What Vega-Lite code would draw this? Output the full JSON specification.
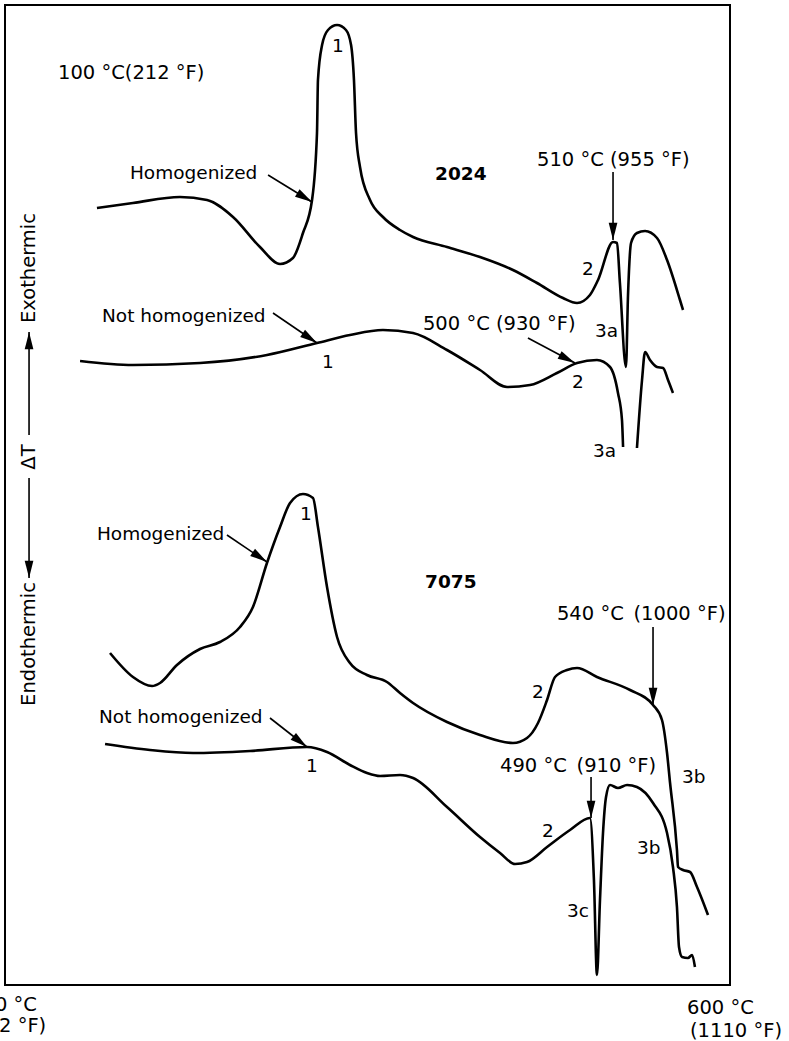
{
  "$schema": "https://vega.github.io/schema/vega-lite/v6.json",
  "width": 725,
  "height": 980,
  "autosize": {"type": "none"},
  "padding": {"left": 5, "top": 5, "right": 59, "bottom": 56},
  "background": "white",
  "config": {
    "view": {"stroke": "black", "strokeWidth": 2},
    "text": {"font": "DejaVu Sans", "color": "black"}
  },
  "datasets": {
    "curves": [
      {"series": "2024 homogenized", "tempC": 76.1, "dT": 777},
      {"series": "2024 homogenized", "tempC": 105.9, "dT": 782},
      {"series": "2024 homogenized", "tempC": 144.8, "dT": 788},
      {"series": "2024 homogenized", "tempC": 167.2, "dT": 785},
      {"series": "2024 homogenized", "tempC": 188.7, "dT": 768},
      {"series": "2024 homogenized", "tempC": 211.0, "dT": 738},
      {"series": "2024 homogenized", "tempC": 227.6, "dT": 721},
      {"series": "2024 homogenized", "tempC": 238.3, "dT": 727},
      {"series": "2024 homogenized", "tempC": 246.6, "dT": 752},
      {"series": "2024 homogenized", "tempC": 254.1, "dT": 785},
      {"series": "2024 homogenized", "tempC": 258.2, "dT": 852},
      {"series": "2024 homogenized", "tempC": 259.0, "dT": 905},
      {"series": "2024 homogenized", "tempC": 262.4, "dT": 940},
      {"series": "2024 homogenized", "tempC": 267.3, "dT": 955},
      {"series": "2024 homogenized", "tempC": 274.8, "dT": 960},
      {"series": "2024 homogenized", "tempC": 282.2, "dT": 955},
      {"series": "2024 homogenized", "tempC": 286.4, "dT": 940},
      {"series": "2024 homogenized", "tempC": 288.8, "dT": 905},
      {"series": "2024 homogenized", "tempC": 290.5, "dT": 852},
      {"series": "2024 homogenized", "tempC": 293.8, "dT": 818},
      {"series": "2024 homogenized", "tempC": 302.1, "dT": 785},
      {"series": "2024 homogenized", "tempC": 312.8, "dT": 768},
      {"series": "2024 homogenized", "tempC": 326.9, "dT": 755},
      {"series": "2024 homogenized", "tempC": 337.7, "dT": 748},
      {"series": "2024 homogenized", "tempC": 365.8, "dT": 738},
      {"series": "2024 homogenized", "tempC": 393.1, "dT": 728},
      {"series": "2024 homogenized", "tempC": 420.4, "dT": 715},
      {"series": "2024 homogenized", "tempC": 440.3, "dT": 702},
      {"series": "2024 homogenized", "tempC": 461.8, "dT": 687},
      {"series": "2024 homogenized", "tempC": 473.4, "dT": 682},
      {"series": "2024 homogenized", "tempC": 484.1, "dT": 690},
      {"series": "2024 homogenized", "tempC": 490.8, "dT": 705},
      {"series": "2024 homogenized", "tempC": 503.2, "dT": 743},
      {"series": "2024 homogenized", "tempC": 506.5, "dT": 742},
      {"series": "2024 homogenized", "tempC": 508.9, "dT": 702},
      {"series": "2024 homogenized", "tempC": 513.9, "dT": 618},
      {"series": "2024 homogenized", "tempC": 515.6, "dT": 690},
      {"series": "2024 homogenized", "tempC": 518.1, "dT": 742},
      {"series": "2024 homogenized", "tempC": 523.0, "dT": 752},
      {"series": "2024 homogenized", "tempC": 529.7, "dT": 754},
      {"series": "2024 homogenized", "tempC": 539.6, "dT": 747},
      {"series": "2024 homogenized", "tempC": 547.9, "dT": 725},
      {"series": "2024 homogenized", "tempC": 558.6, "dT": 685},
      {"series": "2024 homogenized", "tempC": 561.1, "dT": 675},

      {"series": "2024 not homogenized a", "tempC": 62.1, "dT": 624},
      {"series": "2024 not homogenized a", "tempC": 105.9, "dT": 620},
      {"series": "2024 not homogenized a", "tempC": 161.4, "dT": 622},
      {"series": "2024 not homogenized a", "tempC": 216.8, "dT": 630},
      {"series": "2024 not homogenized a", "tempC": 258.2, "dT": 642},
      {"series": "2024 not homogenized a", "tempC": 285.5, "dT": 650},
      {"series": "2024 not homogenized a", "tempC": 312.8, "dT": 655},
      {"series": "2024 not homogenized a", "tempC": 337.7, "dT": 652},
      {"series": "2024 not homogenized a", "tempC": 365.8, "dT": 635},
      {"series": "2024 not homogenized a", "tempC": 393.1, "dT": 615},
      {"series": "2024 not homogenized a", "tempC": 415.5, "dT": 598},
      {"series": "2024 not homogenized a", "tempC": 434.5, "dT": 600},
      {"series": "2024 not homogenized a", "tempC": 456.8, "dT": 612},
      {"series": "2024 not homogenized a", "tempC": 473.4, "dT": 622},
      {"series": "2024 not homogenized a", "tempC": 489.9, "dT": 625},
      {"series": "2024 not homogenized a", "tempC": 500.7, "dT": 618},
      {"series": "2024 not homogenized a", "tempC": 507.3, "dT": 592},
      {"series": "2024 not homogenized a", "tempC": 510.6, "dT": 565},
      {"series": "2024 not homogenized a", "tempC": 511.5, "dT": 538},
      {"series": "2024 not homogenized b", "tempC": 523.0, "dT": 537},
      {"series": "2024 not homogenized b", "tempC": 527.2, "dT": 605},
      {"series": "2024 not homogenized b", "tempC": 529.7, "dT": 633},
      {"series": "2024 not homogenized b", "tempC": 533.8, "dT": 625},
      {"series": "2024 not homogenized b", "tempC": 539.6, "dT": 618},
      {"series": "2024 not homogenized b", "tempC": 544.6, "dT": 617},
      {"series": "2024 not homogenized b", "tempC": 548.7, "dT": 605},
      {"series": "2024 not homogenized b", "tempC": 552.8, "dT": 592},

      {"series": "7075 homogenized", "tempC": 86.9, "dT": 332},
      {"series": "7075 homogenized", "tempC": 105.9, "dT": 308},
      {"series": "7075 homogenized", "tempC": 121.7, "dT": 299},
      {"series": "7075 homogenized", "tempC": 128.3, "dT": 302},
      {"series": "7075 homogenized", "tempC": 142.3, "dT": 320},
      {"series": "7075 homogenized", "tempC": 161.4, "dT": 336},
      {"series": "7075 homogenized", "tempC": 177.9, "dT": 343},
      {"series": "7075 homogenized", "tempC": 194.5, "dT": 358},
      {"series": "7075 homogenized", "tempC": 205.2, "dT": 378},
      {"series": "7075 homogenized", "tempC": 216.8, "dT": 422},
      {"series": "7075 homogenized", "tempC": 227.6, "dT": 458},
      {"series": "7075 homogenized", "tempC": 235.9, "dT": 482},
      {"series": "7075 homogenized", "tempC": 246.6, "dT": 491},
      {"series": "7075 homogenized", "tempC": 254.9, "dT": 487},
      {"series": "7075 homogenized", "tempC": 259.0, "dT": 458},
      {"series": "7075 homogenized", "tempC": 266.5, "dT": 398},
      {"series": "7075 homogenized", "tempC": 274.8, "dT": 348},
      {"series": "7075 homogenized", "tempC": 285.5, "dT": 322},
      {"series": "7075 homogenized", "tempC": 299.6, "dT": 310},
      {"series": "7075 homogenized", "tempC": 316.1, "dT": 303},
      {"series": "7075 homogenized", "tempC": 326.9, "dT": 292},
      {"series": "7075 homogenized", "tempC": 337.7, "dT": 282},
      {"series": "7075 homogenized", "tempC": 365.8, "dT": 263},
      {"series": "7075 homogenized", "tempC": 393.1, "dT": 250},
      {"series": "7075 homogenized", "tempC": 420.4, "dT": 242},
      {"series": "7075 homogenized", "tempC": 432.0, "dT": 247},
      {"series": "7075 homogenized", "tempC": 441.1, "dT": 262},
      {"series": "7075 homogenized", "tempC": 448.6, "dT": 285},
      {"series": "7075 homogenized", "tempC": 455.2, "dT": 308},
      {"series": "7075 homogenized", "tempC": 465.1, "dT": 315},
      {"series": "7075 homogenized", "tempC": 473.4, "dT": 317},
      {"series": "7075 homogenized", "tempC": 489.9, "dT": 308},
      {"series": "7075 homogenized", "tempC": 517.3, "dT": 295},
      {"series": "7075 homogenized", "tempC": 536.3, "dT": 280},
      {"series": "7075 homogenized", "tempC": 543.7, "dT": 265},
      {"series": "7075 homogenized", "tempC": 547.9, "dT": 232},
      {"series": "7075 homogenized", "tempC": 550.4, "dT": 202},
      {"series": "7075 homogenized", "tempC": 556.1, "dT": 135},
      {"series": "7075 homogenized", "tempC": 557.0, "dT": 118},
      {"series": "7075 homogenized", "tempC": 561.1, "dT": 115},
      {"series": "7075 homogenized", "tempC": 566.9, "dT": 113},
      {"series": "7075 homogenized", "tempC": 572.7, "dT": 98},
      {"series": "7075 homogenized", "tempC": 581.8, "dT": 70},

      {"series": "7075 not homogenized", "tempC": 82.8, "dT": 241},
      {"series": "7075 not homogenized", "tempC": 120.0, "dT": 235},
      {"series": "7075 not homogenized", "tempC": 155.6, "dT": 232},
      {"series": "7075 not homogenized", "tempC": 202.8, "dT": 234},
      {"series": "7075 not homogenized", "tempC": 249.9, "dT": 238},
      {"series": "7075 not homogenized", "tempC": 266.5, "dT": 233},
      {"series": "7075 not homogenized", "tempC": 285.5, "dT": 220},
      {"series": "7075 not homogenized", "tempC": 299.6, "dT": 212},
      {"series": "7075 not homogenized", "tempC": 310.4, "dT": 209},
      {"series": "7075 not homogenized", "tempC": 326.9, "dT": 210},
      {"series": "7075 not homogenized", "tempC": 337.7, "dT": 207},
      {"series": "7075 not homogenized", "tempC": 365.8, "dT": 178},
      {"series": "7075 not homogenized", "tempC": 393.1, "dT": 148},
      {"series": "7075 not homogenized", "tempC": 409.7, "dT": 132},
      {"series": "7075 not homogenized", "tempC": 422.1, "dT": 121},
      {"series": "7075 not homogenized", "tempC": 432.0, "dT": 123},
      {"series": "7075 not homogenized", "tempC": 448.6, "dT": 138},
      {"series": "7075 not homogenized", "tempC": 467.6, "dT": 155},
      {"series": "7075 not homogenized", "tempC": 484.1, "dT": 167},
      {"series": "7075 not homogenized", "tempC": 487.4, "dT": 105},
      {"series": "7075 not homogenized", "tempC": 489.9, "dT": 10},
      {"series": "7075 not homogenized", "tempC": 492.4, "dT": 85},
      {"series": "7075 not homogenized", "tempC": 494.9, "dT": 152},
      {"series": "7075 not homogenized", "tempC": 497.4, "dT": 188},
      {"series": "7075 not homogenized", "tempC": 500.7, "dT": 200},
      {"series": "7075 not homogenized", "tempC": 507.3, "dT": 197},
      {"series": "7075 not homogenized", "tempC": 514.8, "dT": 200},
      {"series": "7075 not homogenized", "tempC": 523.0, "dT": 198},
      {"series": "7075 not homogenized", "tempC": 536.3, "dT": 182},
      {"series": "7075 not homogenized", "tempC": 547.9, "dT": 152},
      {"series": "7075 not homogenized", "tempC": 552.8, "dT": 118},
      {"series": "7075 not homogenized", "tempC": 556.1, "dT": 78},
      {"series": "7075 not homogenized", "tempC": 557.8, "dT": 38},
      {"series": "7075 not homogenized", "tempC": 560.3, "dT": 28},
      {"series": "7075 not homogenized", "tempC": 565.2, "dT": 27},
      {"series": "7075 not homogenized", "tempC": 568.6, "dT": 30},
      {"series": "7075 not homogenized", "tempC": 571.0, "dT": 18}
    ],
    "arrows": [
      {"tempC": 217.7, "dT": 810, "tempC2": 254.1, "dT2": 783, "angle": 121.5},
      {"tempC": 221.8, "dT": 672, "tempC2": 258.2, "dT2": 642, "angle": 124},
      {"tempC": 503.2, "dT": 813, "tempC2": 503.2, "dT2": 745, "angle": 180},
      {"tempC": 432.8, "dT": 647, "tempC2": 471.7, "dT2": 622, "angle": 117.5},
      {"tempC": 183.7, "dT": 450, "tempC2": 216.8, "dT2": 423, "angle": 124},
      {"tempC": 536.3, "dT": 358, "tempC2": 536.3, "dT2": 280, "angle": 180},
      {"tempC": 219.3, "dT": 267, "tempC2": 249.9, "dT2": 238, "angle": 128},
      {"tempC": 485.0, "dT": 208, "tempC2": 485.0, "dT2": 167, "angle": 180},
      {"tempC": 19.9, "dT": 550, "tempC2": 19.9, "dT2": 653, "angle": 0},
      {"tempC": 19.9, "dT": 507, "tempC2": 19.9, "dT2": 407, "angle": 180}
    ],
    "labels": [
      {"label": "1", "tempC": 270.6, "dT": 933},
      {"label": "Homogenized", "tempC": 103.4, "dT": 806},
      {"label": "2", "tempC": 477.5, "dT": 710},
      {"label": "3a", "tempC": 488.3, "dT": 648},
      {"label": "Not homogenized", "tempC": 80.3, "dT": 663},
      {"label": "1", "tempC": 262.4, "dT": 617},
      {"label": "2", "tempC": 469.3, "dT": 597},
      {"label": "3a", "tempC": 486.6, "dT": 528},
      {"label": "Homogenized", "tempC": 76.1, "dT": 445},
      {"label": "1", "tempC": 244.1, "dT": 465},
      {"label": "2", "tempC": 436.1, "dT": 287},
      {"label": "Not homogenized", "tempC": 77.8, "dT": 262},
      {"label": "1", "tempC": 249.1, "dT": 213},
      {"label": "3b", "tempC": 560.3, "dT": 202},
      {"label": "2", "tempC": 444.4, "dT": 148},
      {"label": "3b", "tempC": 523.0, "dT": 131},
      {"label": "3c", "tempC": 465.1, "dT": 68}
    ],
    "templabels": [
      {"label": "100 °C(212 °F)", "tempC": 43.9, "dT": 906},
      {"label": "510 °C (955 °F)", "tempC": 440.3, "dT": 819},
      {"label": "500 °C (930 °F)", "tempC": 345.9, "dT": 655},
      {"label": "540 °C\u2002(1000 °F)", "tempC": 456.8, "dT": 365},
      {"label": "490 °C\u2002(910 °F)", "tempC": 409.7, "dT": 213},
      {"label": "600 °C", "tempC": 564.4, "dT": -29},
      {"label": "(1110 °F)", "tempC": 566.9, "dT": -52},
      {"label": "0 °C", "tempC": -8.3, "dT": -26},
      {"label": "(32 °F)", "tempC": -21.5, "dT": -47}
    ],
    "alloys": [
      {"label": "2024", "tempC": 355.9, "dT": 805},
      {"label": "7075", "tempC": 347.6, "dT": 397}
    ],
    "axislabel": [
      {"label": "Exothermic", "tempC": 19.9, "dT": 717},
      {"label": "ΔT", "tempC": 19.9, "dT": 528},
      {"label": "Endothermic", "tempC": 19.9, "dT": 341}
    ]
  },
  "layer": [
    {
      "data": {"name": "curves"},
      "mark": {"type": "line", "interpolate": "monotone", "color": "black", "strokeWidth": 2.6, "clip": false},
      "encoding": {
        "x": {"field": "tempC", "type": "quantitative", "scale": {"domain": [0, 600], "nice": false, "zero": false}, "axis": null},
        "y": {"field": "dT", "type": "quantitative", "scale": {"domain": [0, 980], "nice": false, "zero": false}, "axis": null},
        "detail": {"field": "series"}
      }
    },
    {
      "data": {"name": "arrows"},
      "mark": {"type": "rule", "color": "black", "strokeWidth": 1.6},
      "encoding": {
        "x": {"field": "tempC", "type": "quantitative", "axis": null},
        "y": {"field": "dT", "type": "quantitative", "axis": null},
        "x2": {"field": "tempC2"},
        "y2": {"field": "dT2"}
      }
    },
    {
      "data": {"name": "arrows"},
      "mark": {"type": "point", "shape": "M0,0L0.5,2L-0.5,2Z", "filled": true, "color": "black", "opacity": 1, "size": 300, "strokeWidth": 0},
      "encoding": {
        "x": {"field": "tempC2", "type": "quantitative", "axis": null},
        "y": {"field": "dT2", "type": "quantitative", "axis": null},
        "angle": {"field": "angle", "type": "quantitative", "scale": null}
      }
    },
    {
      "data": {"name": "labels"},
      "mark": {"type": "text", "align": "left", "baseline": "alphabetic", "fontSize": 18.5, "font": "DejaVu Sans"},
      "encoding": {
        "x": {"field": "tempC", "type": "quantitative", "axis": null},
        "y": {"field": "dT", "type": "quantitative", "axis": null},
        "text": {"field": "label"}
      }
    },
    {
      "data": {"name": "templabels"},
      "mark": {"type": "text", "align": "left", "baseline": "alphabetic", "fontSize": 19.5, "font": "DejaVu Sans"},
      "encoding": {
        "x": {"field": "tempC", "type": "quantitative", "axis": null},
        "y": {"field": "dT", "type": "quantitative", "axis": null},
        "text": {"field": "label"}
      }
    },
    {
      "data": {"name": "alloys"},
      "mark": {"type": "text", "align": "left", "baseline": "alphabetic", "fontSize": 18.5, "fontWeight": "bold", "font": "DejaVu Sans"},
      "encoding": {
        "x": {"field": "tempC", "type": "quantitative", "axis": null},
        "y": {"field": "dT", "type": "quantitative", "axis": null},
        "text": {"field": "label"}
      }
    },
    {
      "data": {"name": "axislabel"},
      "mark": {"type": "text", "align": "center", "baseline": "middle", "angle": 270, "fontSize": 19.5, "font": "DejaVu Sans"},
      "encoding": {
        "x": {"field": "tempC", "type": "quantitative", "axis": null},
        "y": {"field": "dT", "type": "quantitative", "axis": null},
        "text": {"field": "label"}
      }
    }
  ]
}
